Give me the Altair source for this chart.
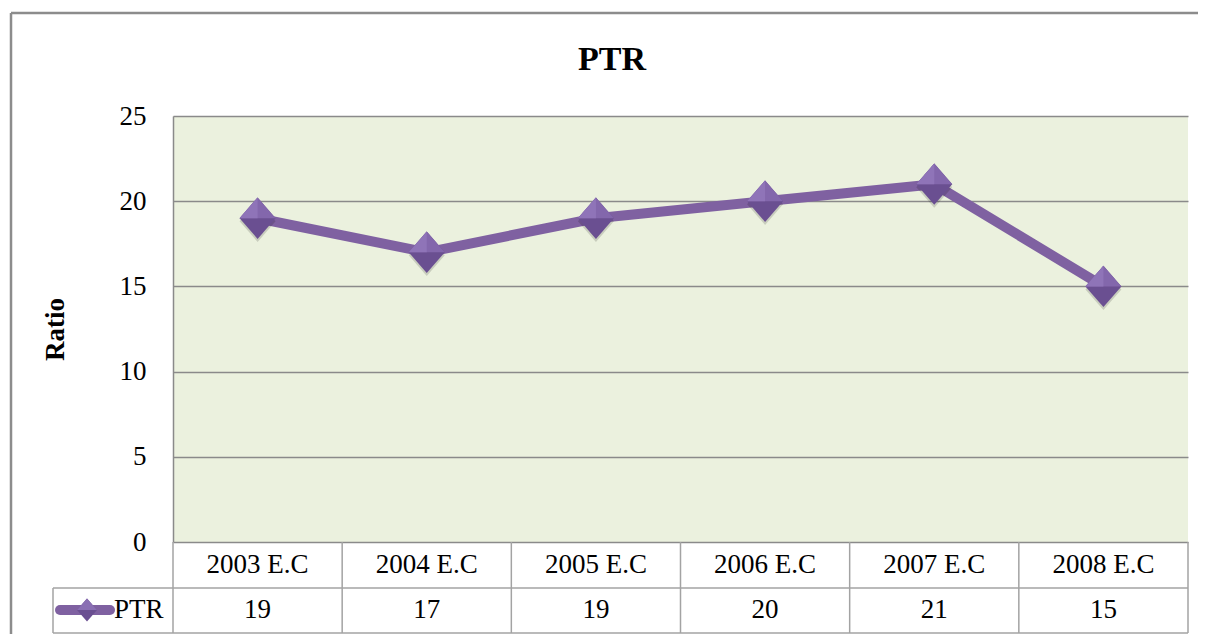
import altair as alt
import pandas as pd

# ---- data ----
categories = ["2003 E.C", "2004 E.C", "2005 E.C", "2006 E.C", "2007 E.C", "2008 E.C"]
ptr_values = [19, 17, 19, 20, 21, 15]
y_ticks = [0, 5, 10, 15, 20, 25]
series_name = "PTR"
chart_title = "PTR"
y_title = "Ratio"

df = pd.DataFrame({"year": categories, "ptr": ptr_values})
df["pos"] = [i + 0.5 for i in range(len(categories))]
df["label"] = [str(v) for v in ptr_values]
bounds = pd.DataFrame({"b": list(range(len(categories) + 1))})
one = pd.DataFrame({"k": [0]})

# ---- layout / style ----
W, H = 1015, 426
ROW1, ROW2 = 46, 91
FONT = "Liberation Serif"
PURPLE = "#7F61A1"
GRID = "#8A8A8A"
TABLE = "#A3A3A3"
FS = 27

x_scale = alt.Scale(domain=[0, len(categories)], nice=False, zero=False)
y_scale = alt.Scale(domain=[0, 25], nice=False, zero=True)
X = alt.X("pos:Q", scale=x_scale, axis=None)
y_axis = alt.Axis(
    values=y_ticks,
    title=y_title,
    grid=True,
    gridColor=GRID,
    gridWidth=1.3,
    domain=True,
    domainColor=GRID,
    domainWidth=1.5,
    ticks=False,
    labelFont=FONT,
    labelFontSize=FS,
    labelColor="black",
    labelPadding=27,
    titleFont=FONT,
    titleFontSize=FS,
    titleFontWeight="bold",
    titleColor="black",
    titlePadding=50,
)
Yp = alt.Y("ptr:Q", scale=y_scale, axis=y_axis)

DIAMOND = "M0,-1.15L1,0L0,1.15L-1,0Z"
UPPER = "M0,-1.15L1,0L-1,0Z"
UPLEFT = "M0,-1.15L0,0L-1,0Z"

line = alt.Chart(df).mark_line(color=PURPLE, strokeWidth=10, strokeJoin="round").encode(x=X, y=Yp)
shadow = alt.Chart(df).mark_point(shape=DIAMOND, size=1296, filled=True, color="#000000", opacity=0.15, yOffset=3).encode(x=X, y=Yp)
d_base = alt.Chart(df).mark_point(shape=DIAMOND, size=1296, filled=True, color="#6A4F91", opacity=1).encode(x=X, y=Yp)
d_up = alt.Chart(df).mark_point(shape=UPPER, size=1296, filled=True, color="#8367AC", opacity=1).encode(x=X, y=Yp)
d_ul = alt.Chart(df).mark_point(shape=UPLEFT, size=1296, filled=True, color="#8F74B8", opacity=1).encode(x=X, y=Yp)

# ---- data table ----
vlines = alt.Chart(bounds).mark_rule(color=TABLE, strokeWidth=1.5).encode(
    x=alt.X("b:Q", scale=x_scale, axis=None), y=alt.value(H), y2=alt.value(H + ROW2)
)
hline1 = alt.Chart(one).mark_rule(color=TABLE, strokeWidth=1.5).encode(
    x=alt.value(-120), x2=alt.value(W), y=alt.value(H + ROW1)
)
hline2 = alt.Chart(one).mark_rule(color=TABLE, strokeWidth=1.5).encode(
    x=alt.value(-120), x2=alt.value(W), y=alt.value(H + ROW2)
)
lvline = alt.Chart(one).mark_rule(color=TABLE, strokeWidth=1.5).encode(
    x=alt.value(-120), y=alt.value(H + ROW1), y2=alt.value(H + ROW2)
)
cat_text = alt.Chart(df).mark_text(font=FONT, fontSize=FS, color="black", baseline="middle").encode(
    x=X, y=alt.value(H + 23), text="year:N"
)
val_text = alt.Chart(df).mark_text(font=FONT, fontSize=FS, color="black", baseline="middle").encode(
    x=X, y=alt.value(H + 68), text="label:N"
)

# legend key inside table
key_line = alt.Chart(one).mark_rule(color=PURPLE, strokeWidth=10, strokeCap="round").encode(
    x=alt.value(-113), x2=alt.value(-63), y=alt.value(H + 68)
)
key_d1 = alt.Chart(one).mark_point(shape=DIAMOND, size=400, filled=True, color="#6A4F91", opacity=1).encode(
    x=alt.value(-86), y=alt.value(H + 68)
)
key_d2 = alt.Chart(one).mark_point(shape=UPPER, size=400, filled=True, color="#8A6FB3", opacity=1).encode(
    x=alt.value(-86), y=alt.value(H + 68)
)
key_text = alt.Chart(pd.DataFrame({"t": [series_name]})).mark_text(
    font=FONT, fontSize=FS, color="black", baseline="middle", align="left"
).encode(x=alt.value(-59), y=alt.value(H + 68), text="t:N")

# title
title = alt.Chart(pd.DataFrame({"t": [chart_title]})).mark_text(
    font=FONT, fontSize=34, fontWeight="bold", color="black", baseline="middle", align="center"
).encode(x=alt.value(439), y=alt.value(-56), text="t:N")

# outer frame
frame_top = alt.Chart(one).mark_rule(color="#8C8C8C", strokeWidth=2.5).encode(
    x=alt.value(-162), x2=alt.value(W + 40), y=alt.value(-103)
)
frame_left = alt.Chart(one).mark_rule(color="#8C8C8C", strokeWidth=2.5).encode(
    x=alt.value(-162), y=alt.value(-103), y2=alt.value(H + 120)
)

chart = alt.layer(
    line, shadow, d_base, d_up, d_ul,
    vlines, hline1, hline2, lvline, cat_text, val_text,
    key_line, key_d1, key_d2, key_text, title, frame_top, frame_left,
).properties(
    width=W,
    height=H,
    autosize=alt.AutoSizeParams(type="none"),
    padding={"left": 165, "top": 108, "right": 10, "bottom": 92},
    background="white",
).configure_view(
    fill="#EBF1DE", strokeWidth=0
)

chart.save("out.html", embed_options={"renderer": "svg", "actions": False})
